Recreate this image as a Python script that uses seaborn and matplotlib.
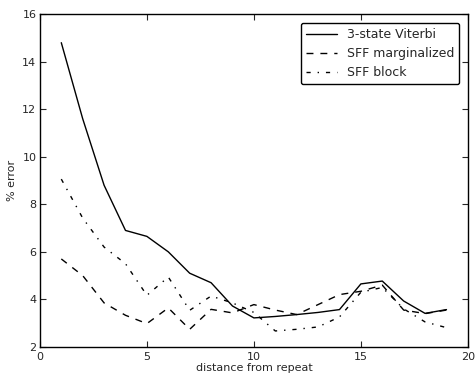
import numpy as np
import pandas as pd
import seaborn as sns
import matplotlib
matplotlib.use("Agg")
import matplotlib.pyplot as plt

distance = list(range(1, 20))
viterbi = [14.8, 11.6, 8.8, 6.9, 6.65, 6.0, 5.1, 4.7, 3.72, 3.22, 3.28, 3.36, 3.45, 3.57, 4.65, 4.77, 3.93, 3.41, 3.57]
sff_marg = [5.7, 5.0, 3.85, 3.33, 2.98, 3.64, 2.74, 3.58, 3.43, 3.78, 3.55, 3.36, 3.78, 4.2, 4.34, 4.6, 3.55, 3.4, 3.55]
sff_block = [9.06, 7.42, 6.2, 5.5, 4.17, 4.94, 3.54, 4.14, 3.85, 3.45, 2.67, 2.74, 2.84, 3.26, 4.3, 4.5, 3.6, 3.05, 2.81]

series_names = ["3-state Viterbi", "SFF marginalized", "SFF block"]

df = pd.concat([
    pd.DataFrame({"distance": distance, "error": viterbi, "method": series_names[0]}),
    pd.DataFrame({"distance": distance, "error": sff_marg, "method": series_names[1]}),
    pd.DataFrame({"distance": distance, "error": sff_block, "method": series_names[2]}),
], ignore_index=True)

sns.set_style("ticks")
plt.rcParams.update({
    "xtick.direction": "in", "ytick.direction": "in",
    "xtick.top": True, "ytick.right": True,
    "xtick.major.size": 4, "ytick.major.size": 4,
    "xtick.major.pad": 3.5, "ytick.major.pad": 2.5,
    "font.size": 8,
})
plt.rcParams["font.family"] = ["DejaVu Sans"]

fig = plt.figure(figsize=(4.75, 3.73), dpi=100)
ax = fig.add_axes([0.084, 0.07, 0.901, 0.892])

sns.lineplot(
    data=df, x="distance", y="error", style="method",
    style_order=series_names,
    dashes=["", (5, 5), (3, 5, 1, 5)],
    color="black", linewidth=1, ax=ax,
)

ax.set_xlim(0, 20)
ax.set_ylim(2, 16)
ax.set_xticks([0, 5, 10, 15, 20])
ax.set_yticks([2, 4, 6, 8, 10, 12, 14, 16])
ax.tick_params(labelsize=8)
ax.set_xlabel("distance from repeat", fontsize=8, labelpad=1)
ax.set_ylabel("% error", fontsize=8, labelpad=4)
for s in ax.spines.values():
    s.set_linewidth(1)
    s.set_color("black")

leg = ax.legend(loc="upper right", fancybox=True, handlelength=2.5, fontsize=9,
                borderaxespad=0.7)
leg.get_frame().set_edgecolor("black")
leg.get_frame().set_alpha(1)

fig.savefig("out.png", dpi=100)
